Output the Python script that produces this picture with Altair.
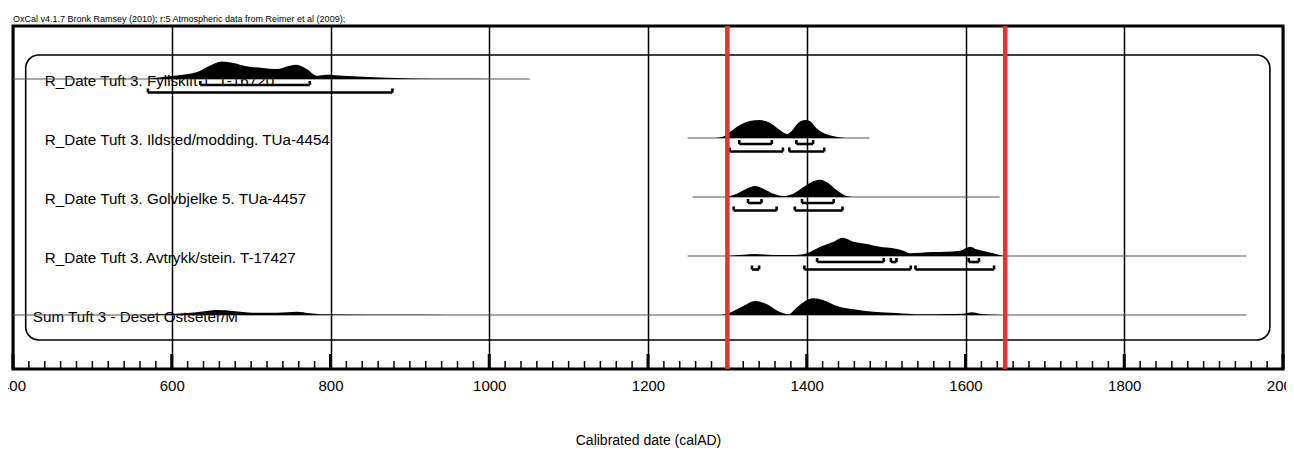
import altair as alt
import pandas as pd

# ---------------- data ----------------
labels = [
    "R_Date Tuft 3. Fyllskift 1. T-16720",
    "R_Date Tuft 3. Ildsted/modding. TUa-4454",
    "R_Date Tuft 3. Golvbjelke 5. TUa-4457",
    "R_Date Tuft 3. Avtrykk/stein. T-17427",
    "Sum Tuft 3 - Deset Ostseter/M",
]
label_start = [440, 440, 440, 440, 425]

row_from = [400, 1250, 1256, 1250, 400]
row_to = [1051, 1479, 1643, 1954, 1954]

d1_years = [569, 589, 606, 631, 648, 663, 678, 694, 715, 732, 749, 757, 770, 783, 795, 816, 841, 883, 925, 967, 1000]
d1_dens = [0, 2, 3.5, 6.7, 13.3, 17.5, 16, 12.7, 11, 10, 13.3, 14.3, 10, 3.3, 4.3, 3.3, 2.3, 1, 0.3, 0.2, 0]

d2_years = [1285, 1295, 1303, 1316, 1328, 1341, 1354, 1366, 1375, 1381, 1389, 1398, 1404, 1412, 1421, 1433, 1450]
d2_dens = [0, 1.5, 6, 13, 17, 18, 15, 8, 4, 7, 15, 18, 17, 10, 5, 2, 0]

d3_years = [1299, 1312, 1324, 1335, 1345, 1358, 1370, 1383, 1396, 1408, 1417, 1425, 1438, 1450, 1459]
d3_dens = [0, 3.3, 8.3, 11, 8.3, 3.3, 1, 3.3, 10, 15.7, 17.3, 15, 6.7, 1, 0]

d4_years = [1300, 1320, 1335, 1358, 1387, 1400, 1417, 1434, 1445, 1459, 1476, 1492, 1509, 1522, 1530,
            1543, 1560, 1576, 1593, 1606, 1614, 1623, 1635, 1646, 1650]
d4_dens = [0, 1.2, 2, 1, 1, 2.7, 9.3, 14.3, 18.3, 14.3, 12, 9.3, 7.7, 5.3, 2.7,
           3.3, 4, 4.3, 5.3, 9.3, 6.7, 5, 2.7, 0.5, 0]

d5_years = [560, 600, 620, 636, 657, 677, 702, 733, 758, 774, 787, 846, 888, 950,
            1291, 1303, 1320, 1335, 1350, 1366, 1377, 1387, 1398, 1408, 1421, 1438, 1459,
            1484, 1513, 1543, 1576, 1597, 1608, 1618, 1639, 1650]
d5_dens = [0, 1, 2, 3.3, 5, 4, 2.3, 2.3, 3.3, 1.7, 0.7, 0.3, 0.15, 0,
           0, 2.3, 9, 14, 10.7, 3, 0.7, 7.3, 14, 16.7, 14.7, 9, 5.7,
           3.3, 2, 0.7, 1, 1.3, 2.7, 1.3, 0.3, 0]

# highest posterior density ranges (row, from, to)
hpd68_row = [0, 1, 1, 2, 2, 3, 3, 3]
hpd68_from = [636, 1315, 1387, 1326, 1394, 1413, 1506, 1604]
hpd68_to = [774, 1356, 1408, 1343, 1434, 1497, 1513, 1617]

hpd95_row = [0, 1, 1, 2, 2, 3, 3, 3]
hpd95_from = [570, 1303, 1378, 1308, 1385, 1331, 1397, 1537]
hpd95_to = [878, 1370, 1422, 1362, 1445, 1340, 1531, 1636]

boundaries = [1300, 1650]
axis_years = [400, 600, 800, 1000, 1200, 1400, 1600, 1800, 2000]

# ---------------- layout constants ----------------
ROW_PX = 59.0
Y_TOP = (26 - 79) / ROW_PX
Y_BOT = (369 - 79) / ROW_PX
DENS_K = 1.0 / ROW_PX
OFF68 = 6 / ROW_PX
OFF95 = 13.5 / ROW_PX
END_H = 4 / ROW_PX

xs = alt.Scale(domain=[400, 2000], nice=False, zero=False)
ys = alt.Scale(domain=[Y_TOP, Y_BOT], reverse=True, nice=False, zero=False)

FONT = "Liberation Sans"
x_axis = alt.Axis(
    values=axis_years, grid=True, gridColor="black", gridWidth=1.5, gridOpacity=1,
    ticks=False, domain=False, labelFontSize=15, labelFont=FONT, labelColor="black",
    labelPadding=9, labelFlush=False, labelOverlap=False, format="d",
    title="Calibrated date (calAD)", titleFont=FONT, titleFontSize=14, titleFontWeight="normal",
    titleColor="black", titlePadding=40)

# ---------------- tables ----------------
dens_rows = []
for r, (yr, dv) in enumerate([(d1_years, d1_dens), (d2_years, d2_dens), (d3_years, d3_dens),
                              (d4_years, d4_dens), (d5_years, d5_dens)]):
    for a, b in zip(yr, dv):
        dens_rows.append({"row": r, "year": a, "top": r - b * DENS_K, "base": r})
dens_df = pd.DataFrame(dens_rows)

lab_df = pd.DataFrame({"row": list(range(5)), "label": labels, "x": label_start})
base_df = pd.DataFrame({"row": list(range(5)), "x1": row_from, "x2": row_to})

br = []
for rr, a, b in zip(hpd68_row, hpd68_from, hpd68_to):
    br.append({"row": rr, "a": a, "b": b, "y": rr + OFF68})
for rr, a, b in zip(hpd95_row, hpd95_from, hpd95_to):
    br.append({"row": rr, "a": a, "b": b, "y": rr + OFF95})
br_df = pd.DataFrame(br)
br_df["yend"] = br_df["y"] - END_H
ends_df = pd.concat([
    br_df[["a", "y", "yend"]].rename(columns={"a": "x"}),
    br_df[["b", "y", "yend"]].rename(columns={"b": "x"}),
])

tick_df = pd.DataFrame({"x": list(range(400, 2001, 20))})
tick_df["major"] = tick_df["x"] % 200 == 0
tick_df["y"] = Y_BOT
tick_df["yend"] = Y_BOT - tick_df["major"].map({True: 15, False: 8}) / ROW_PX
minor_df = tick_df[~tick_df["major"]]
major_df = tick_df[tick_df["major"]]

frame_df = pd.DataFrame({"x1": [416], "x2": [1983.5], "y1": [(55 - 79) / ROW_PX], "y2": [(340 - 79) / ROW_PX]})
red_df = pd.DataFrame({"x": boundaries})


def X(field):
    return alt.X(field, scale=xs, axis=x_axis)


def Y(field):
    return alt.Y(field, scale=ys, axis=None)


# ---------------- layers ----------------
rounded = alt.Chart(frame_df).mark_rect(fillOpacity=0, stroke="black", strokeWidth=1.6, cornerRadius=13).encode(
    x=X("x1:Q"), x2="x2:Q", y=Y("y1:Q"), y2="y2:Q",
)

text_layer = alt.Chart(lab_df).mark_text(align="left", baseline="middle", dy=2, fontSize=15.2, font=FONT,
                                          color="black").encode(
    x=X("x:Q"), y=Y("row:Q"), text="label:N",
)

baselines = alt.Chart(base_df).mark_rule(color="#555555", strokeWidth=1.2).encode(
    x=X("x1:Q"), x2="x2:Q", y=Y("row:Q"),
)

areas = alt.Chart(dens_df).mark_area(color="black", interpolate="monotone", opacity=1).encode(
    x=X("year:Q"), y=Y("top:Q"), y2="base:Q", detail="row:N",
)

brackets = alt.Chart(br_df).mark_rule(color="black", strokeWidth=2.6).encode(
    x=X("a:Q"), x2="b:Q", y=Y("y:Q"),
)
bracket_ends = alt.Chart(ends_df).mark_rule(color="black", strokeWidth=2.6).encode(
    x=X("x:Q"), y=Y("y:Q"), y2="yend:Q",
)

minor_ticks = alt.Chart(minor_df).mark_rule(color="black", strokeWidth=1.5).encode(
    x=X("x:Q"), y=Y("y:Q"), y2="yend:Q",
)
major_ticks = alt.Chart(major_df).mark_rule(color="black", strokeWidth=3).encode(
    x=X("x:Q"), y=Y("y:Q"), y2="yend:Q",
)

red_lines = alt.Chart(red_df).mark_rule(color="#e8302e", strokeWidth=4.5).encode(
    x=X("x:Q"),
)

chart = alt.layer(
    rounded, text_layer, baselines, areas, brackets, bracket_ends,
    minor_ticks, major_ticks, red_lines,
).properties(
    width=1270, height=343,
    autosize=alt.AutoSizeParams(type="none"),
    padding={"left": 5, "top": 18, "right": 3, "bottom": 80},
    title=alt.TitleParams(
        "OxCal v4.1.7 Bronk Ramsey (2010); r:5 Atmospheric data from Reimer et al (2009);",
        anchor="start", frame="group", fontSize=9, fontWeight="normal", font=FONT,
        color="black", offset=0),
).configure_view(stroke="black", strokeWidth=3)

chart.save("out.html", embed_options={"renderer": "svg", "actions": False})
